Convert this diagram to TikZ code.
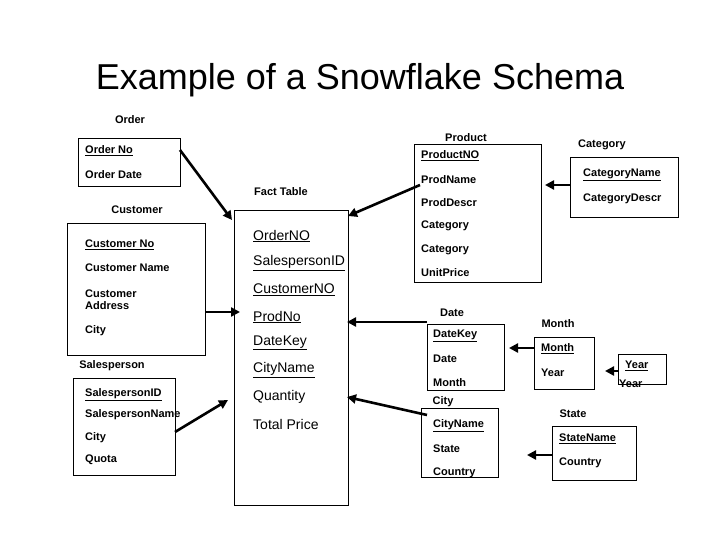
\documentclass[tikz,border=0pt]{standalone}
\usepackage{fontspec}
\setmainfont{Liberation Sans}
\usetikzlibrary{arrows.meta}
\begin{document}
\begin{tikzpicture}[x=1pt,y=-1pt,
  tbox/.style={draw,line width=0.8pt},
  lbl/.style={anchor=west,inner sep=0pt,font=\bfseries\fontsize{11}{12}\selectfont},
  flbl/.style={anchor=west,inner sep=0pt,font=\fontsize{14}{15}\selectfont},
  ttl/.style={inner sep=0pt,font=\bfseries\fontsize{11}{12}\selectfont},
  arr/.style={line width=2.6pt,-{Triangle[length=9pt,width=9pt]}}]
\useasboundingbox[fill=white] (0,0) rectangle (720,540);
\node[font=\fontsize{36}{40}\selectfont] (title) at (360,80) {Example of a Snowflake Schema};
% boxes
\draw[tbox] (78,138) rectangle (180,186);
\draw[tbox] (67,223) rectangle (205,355);
\draw[tbox] (73,378) rectangle (175,475);
\draw[tbox] (234,210) rectangle (348,505);
\draw[tbox] (414,144) rectangle (541,282);
\draw[tbox] (570,157) rectangle (678,217);
\draw[tbox] (427,324) rectangle (504,390);
\draw[tbox] (534,337) rectangle (594,389);
\draw[tbox] (618,354) rectangle (666,384);
\draw[tbox] (421,408) rectangle (498,477);
\draw[tbox] (552,426) rectangle (636,480);
% titles
\node[ttl] (tOrder) at (130,120) {Order};
\node[ttl] (tCust) at (137,210) {Customer};
\node[ttl] (tSales) at (112,366) {Salesperson};
\node[ttl] (tFact) at (281,192) {Fact Table};
\node[ttl] (tProd) at (466,138) {Product};
\node[ttl] (tCat) at (602,145) {Category};
\node[ttl] (tDate) at (452,313) {Date};
\node[ttl] (tMonth) at (558,324) {Month};
\node[ttl] (tCity) at (443,402) {City};
\node[ttl] (tState) at (573,414) {State};
% order
\node[lbl] (oNo) at (85,151) {\underline{Order No}};
\node[lbl] (oDate) at (85,175) {Order Date};
% customer
\node[lbl] (cNo) at (85,245) {\underline{Customer No}};
\node[lbl] (cName) at (85,268) {Customer Name};
\node[lbl,align=left] (cAddr) at (85,300) {Customer\\Address};
\node[lbl] (cCity) at (85,331) {City};
% salesperson
\node[lbl] (sID) at (85,395) {\underline{SalespersonID}};
\node[lbl] (sName) at (85,415) {SalespersonName};
\node[lbl] (sCity) at (85,438) {City};
\node[lbl] (sQuota) at (85,460) {Quota};
% fact
\node[flbl] (fOrder) at (253,236) {\underline{OrderNO}};
\node[flbl] (fSales) at (253,263) {\underline{SalespersonID}};
\node[flbl] (fCust) at (253,290) {\underline{CustomerNO}};
\node[flbl] (fProd) at (253,317) {\underline{ProdNo}};
\node[flbl] (fDate) at (253,343) {\underline{DateKey}};
\node[flbl] (fCity) at (253,370) {\underline{CityName}};
\node[flbl] (fQty) at (253,397) {Quantity};
\node[flbl] (fTot) at (253,424) {Total Price};
% product
\node[lbl] (pNo) at (421,156) {\underline{ProductNO}};
\node[lbl] (pName) at (421,180) {ProdName};
\node[lbl] (pDescr) at (421,203) {ProdDescr};
\node[lbl] (pCat1) at (421,226) {Category};
\node[lbl] (pCat2) at (421,250) {Category};
\node[lbl] (pPrice) at (421,273) {UnitPrice};
% category
\node[lbl] (gName) at (583,175) {\underline{CategoryName}};
\node[lbl] (gDescr) at (583,199) {CategoryDescr};
% date
\node[lbl] (dKey) at (433,336) {\underline{DateKey}};
\node[lbl] (dDate) at (433,359) {Date};
\node[lbl] (dMonth) at (433,383) {Month};
% month
\node[lbl] (mMonth) at (541,349) {\underline{Month}};
\node[lbl] (mYear) at (541,373) {Year};
% year
\node[lbl] (yYear) at (625,366) {\underline{Year}};
\node[lbl] (yYear2) at (619,384) {Year};
% city
\node[lbl] (ciName) at (433,426) {\underline{CityName}};
\node[lbl] (ciState) at (433,449) {State};
\node[lbl] (ciCountry) at (433,473) {Country};
% state
\node[lbl] (stName) at (559,439) {\underline{StateName}};
\node[lbl] (stCountry) at (559,463) {Country};
% arrow anchor coordinates
\coordinate (a1) at (180,150); \coordinate (b1) at (232,220);
\coordinate (a2) at (205,312); \coordinate (b2) at (240,312);
\coordinate (a3) at (175,432); \coordinate (b3) at (228,400);
\coordinate (a4) at (420,185); \coordinate (b4) at (348,216);
\coordinate (a5) at (427,322); \coordinate (b5) at (347,322);
\coordinate (a6) at (427,415); \coordinate (b6) at (347,397);
\coordinate (a7) at (570,185); \coordinate (b7) at (545,185);
\coordinate (a8) at (534,348); \coordinate (b8) at (509,348);
\coordinate (a9) at (618,371); \coordinate (b9) at (605,371);
\coordinate (a10) at (552,455); \coordinate (b10) at (527,455);
\foreach \i in {1,...,10} \draw[arr] (a\i) -- (b\i);
\end{tikzpicture}
\end{document}
